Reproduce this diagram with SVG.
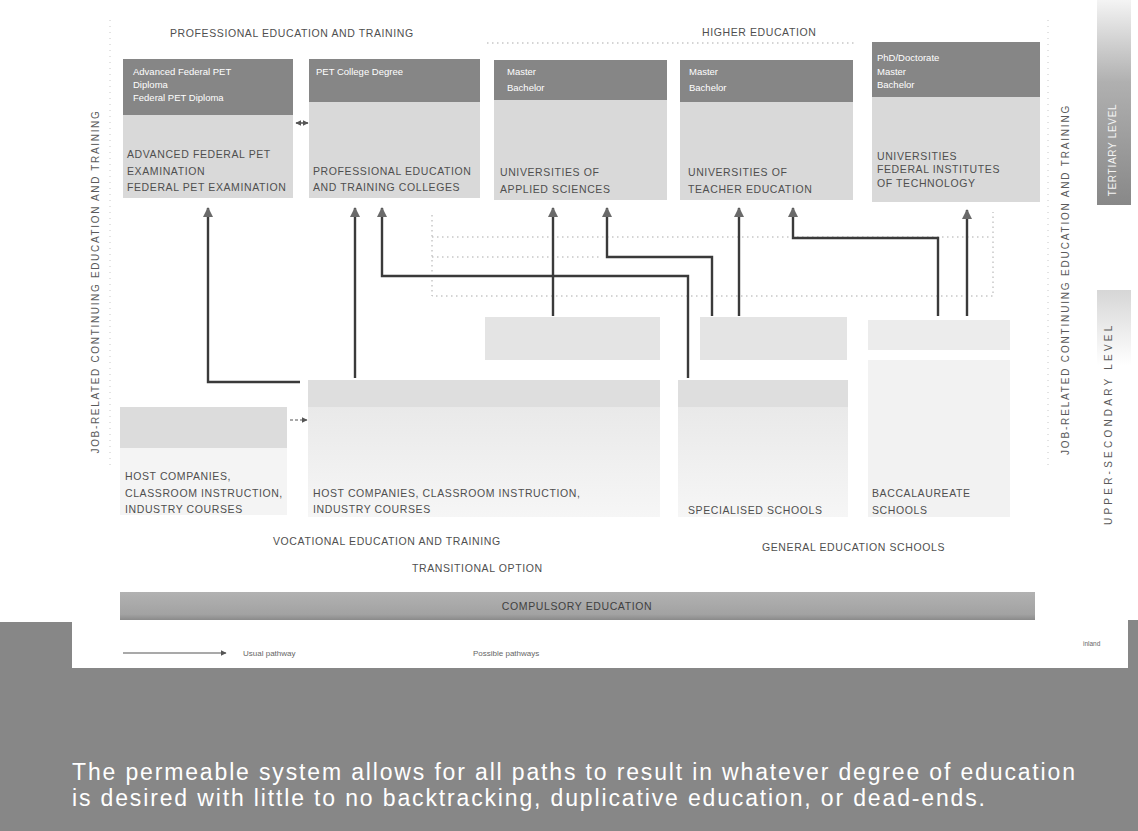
<svg xmlns="http://www.w3.org/2000/svg" width="1138" height="831" viewBox="0 0 1138 831">
<defs>
<style>
.t{font-family:"Liberation Sans",Arial,sans-serif;fill:#4f4f4f;font-size:10.5px;letter-spacing:0.6px}
.s{font-family:"Liberation Sans",Arial,sans-serif;fill:#5a5a5a;font-size:10px;letter-spacing:0.7px}
.h{font-family:"Liberation Sans",Arial,sans-serif;fill:#ffffff;font-size:9.5px}
.lg{font-family:"Liberation Sans",Arial,sans-serif;fill:#666;font-size:8px}
.cap{font-family:"Liberation Sans",Arial,sans-serif;fill:#ffffff;font-size:23px}
.hd{fill:#868686}
.bd{fill:#d9d9d9}
.lt{fill:#e4e4e4}
.vl{fill:#ececec}
.c{fill:none;stroke:#3a3a3a;stroke-width:2.4}
.p{fill:none;stroke:#aaaaaa;stroke-width:1;stroke-dasharray:1.5 3.5}
.pf{fill:none;stroke:#c8c8c8;stroke-width:1;stroke-dasharray:1 5}
</style>
<marker id="ah" viewBox="0 0 10 10" refX="9" refY="5" markerUnits="userSpaceOnUse" markerWidth="10" markerHeight="10" orient="auto">
<path d="M0,0 L10,5 L0,10 z" fill="#6a6a6a"/>
</marker>
<marker id="as" viewBox="0 0 10 10" refX="9" refY="5" markerUnits="userSpaceOnUse" markerWidth="6" markerHeight="6" orient="auto-start-reverse">
<path d="M0,0 L10,5 L0,10 z" fill="#555"/>
</marker>
<linearGradient id="gTer" x1="0" y1="0" x2="0" y2="1">
<stop offset="0" stop-color="#f4f4f4"/>
<stop offset="0.4" stop-color="#b0b0b0"/>
<stop offset="1" stop-color="#888888"/>
</linearGradient>
<linearGradient id="gUp" x1="0" y1="0" x2="0" y2="1">
<stop offset="0" stop-color="#d6d6d6"/>
<stop offset="1" stop-color="#ffffff"/>
</linearGradient>
<linearGradient id="gFade" x1="0" y1="0" x2="0" y2="1">
<stop offset="0" stop-color="#e6e6e6"/>
<stop offset="1" stop-color="#f6f6f6"/>
</linearGradient>
<linearGradient id="gComp" x1="0" y1="0" x2="0" y2="1">
<stop offset="0" stop-color="#b2b2b2"/>
<stop offset="0.8" stop-color="#a2a2a2"/>
<stop offset="1" stop-color="#8a8a8a"/>
</linearGradient>
</defs>

<rect x="0" y="0" width="1138" height="831" fill="#ffffff"/>
<g id="frame">
<path d="M0,622 H72 V668 H1128 V620 H1138 V831 H0 Z" fill="#878787"/>
</g>

<g id="section-titles">
<text class="t" x="170" y="37">PROFESSIONAL EDUCATION AND TRAINING</text>
<text class="t" x="702" y="36">HIGHER EDUCATION</text>
<line class="p" x1="487" y1="43" x2="857" y2="43"/>
<line class="pf" x1="110" y1="20" x2="110" y2="470"/>
<line class="pf" x1="1048" y1="20" x2="1048" y2="470"/>
</g>

<g id="side-left">
<text class="s" transform="translate(99,282) rotate(-90)" text-anchor="middle" textLength="343" lengthAdjust="spacing">JOB-RELATED CONTINUING EDUCATION AND TRAINING</text>
</g>
<g id="side-right">
<text class="s" transform="translate(1069,280) rotate(-90)" text-anchor="middle" textLength="350" lengthAdjust="spacing">JOB-RELATED CONTINUING EDUCATION AND TRAINING</text>
</g>
<g id="tertiary-level">
<rect x="1097" y="0" width="34" height="205" fill="url(#gTer)"/>
<text class="s" style="fill:#f4f4f4" transform="translate(1116,150) rotate(-90)" text-anchor="middle">TERTIARY LEVEL</text>
</g>
<g id="upper-secondary-level">
<rect x="1097" y="290" width="34" height="75" fill="url(#gUp)"/>
<text class="s" transform="translate(1112,425) rotate(-90)" text-anchor="middle" textLength="200" lengthAdjust="spacing">UPPER-SECONDARY LEVEL</text>
</g>

<g id="pet-exam">
<rect class="bd" x="123" y="59" width="170" height="139"/>
<rect class="hd" x="123" y="59" width="170" height="56"/>
<text class="h" x="133" y="75">Advanced Federal PET</text>
<text class="h" x="133" y="88">Diploma</text>
<text class="h" x="133" y="101">Federal PET Diploma</text>
<text class="t" x="127" y="158">ADVANCED FEDERAL PET</text>
<text class="t" x="127" y="175">EXAMINATION</text>
<text class="t" x="127" y="191">FEDERAL PET EXAMINATION</text>
</g>
<g id="pet-colleges">
<rect class="bd" x="309" y="59" width="171" height="139"/>
<rect class="hd" x="309" y="59" width="171" height="43"/>
<text class="h" x="316" y="75">PET College Degree</text>
<text class="t" x="313" y="175">PROFESSIONAL EDUCATION</text>
<text class="t" x="313" y="191">AND TRAINING COLLEGES</text>
</g>
<g id="uas">
<rect class="bd" x="494" y="60" width="173" height="140"/>
<rect class="hd" x="494" y="60" width="173" height="40"/>
<text class="h" x="507" y="75">Master</text>
<text class="h" x="507" y="91">Bachelor</text>
<text class="t" x="500" y="176">UNIVERSITIES OF</text>
<text class="t" x="500" y="193">APPLIED SCIENCES</text>
</g>
<g id="ute">
<rect class="bd" x="680" y="60" width="173" height="140"/>
<rect class="hd" x="680" y="60" width="173" height="42"/>
<text class="h" x="689" y="75">Master</text>
<text class="h" x="689" y="91">Bachelor</text>
<text class="t" x="688" y="176">UNIVERSITIES OF</text>
<text class="t" x="688" y="193">TEACHER EDUCATION</text>
</g>
<g id="universities">
<rect class="bd" x="872" y="42" width="168" height="160"/>
<rect class="hd" x="872" y="42" width="168" height="55"/>
<text class="h" x="877" y="61">PhD/Doctorate</text>
<text class="h" x="877" y="75">Master</text>
<text class="h" x="877" y="88">Bachelor</text>
<text class="t" x="877" y="160">UNIVERSITIES</text>
<text class="t" x="877" y="173">FEDERAL INSTITUTES</text>
<text class="t" x="877" y="187">OF TECHNOLOGY</text>
</g>

<g id="vocational-baccalaureate">
<rect class="lt" x="485" y="317" width="175" height="43"/>
</g>
<g id="specialised-baccalaureate">
<rect class="lt" x="700" y="317" width="147" height="43"/>
</g>
<g id="baccalaureate">
<rect class="vl" x="868" y="320" width="142" height="30"/>
</g>

<g id="transitional">
<rect x="120" y="448" width="167" height="67" fill="#f4f4f4"/>
<rect x="120" y="407" width="167" height="41" fill="#dcdcdc"/>
<text class="t" x="125" y="480">HOST COMPANIES,</text>
<text class="t" x="125" y="497">CLASSROOM INSTRUCTION,</text>
<text class="t" x="125" y="513">INDUSTRY COURSES</text>
</g>
<g id="vet">
<rect x="308" y="380" width="352" height="137" fill="url(#gFade)"/>
<rect x="308" y="380" width="352" height="27" fill="#dedede"/>
<text class="t" x="313" y="497">HOST COMPANIES, CLASSROOM INSTRUCTION,</text>
<text class="t" x="313" y="513">INDUSTRY COURSES</text>
</g>
<g id="specialised-schools">
<rect x="678" y="380" width="170" height="137" fill="url(#gFade)"/>
<rect x="678" y="380" width="170" height="27" fill="#dedede"/>
<text class="t" x="688" y="514">SPECIALISED SCHOOLS</text>
</g>
<g id="baccalaureate-schools">
<rect x="868" y="360" width="142" height="157" fill="#f2f2f2"/>
<text class="t" x="872" y="497">BACCALAUREATE</text>
<text class="t" x="872" y="514">SCHOOLS</text>
</g>

<g id="group-labels">
<text class="t" x="273" y="545">VOCATIONAL EDUCATION AND TRAINING</text>
<text class="t" x="762" y="551">GENERAL EDUCATION SCHOOLS</text>
<text class="t" x="412" y="572">TRANSITIONAL OPTION</text>
</g>

<g id="compulsory">
<rect x="120" y="592" width="915" height="28" fill="url(#gComp)"/>
<text class="t" style="fill:#3f3f3f" x="577" y="610" text-anchor="middle">COMPULSORY EDUCATION</text>
</g>

<g id="connectors">
<path class="p" d="M432,215 V296 H993 V212"/>
<path class="p" d="M432,237 H990"/>
<path class="p" d="M432,257 H600"/>
<path class="c" d="M300,382 H208 V208" marker-end="url(#ah)"/>
<path class="c" d="M355,378 V208" marker-end="url(#ah)"/>
<path class="c" d="M688,378 V276 H382 V208" marker-end="url(#ah)"/>
<path class="c" d="M553,316 V208" marker-end="url(#ah)"/>
<path class="c" d="M712,316 V257 H607 V208" marker-end="url(#ah)"/>
<path class="c" d="M739,316 V208" marker-end="url(#ah)"/>
<path class="c" d="M938,316 V238 H793 V208" marker-end="url(#ah)"/>
<path class="c" d="M967,316 V210" marker-end="url(#ah)"/>
<path fill="none" stroke="#555" stroke-width="1.5" d="M296,123 H308" marker-start="url(#as)" marker-end="url(#as)"/>
<path fill="none" stroke="#555" stroke-width="1.2" stroke-dasharray="3 2" d="M290,420 H307" marker-end="url(#as)"/>
</g>

<g id="legend">
<path fill="none" stroke="#555" stroke-width="1.2" d="M123,653 H226" marker-end="url(#as)"/>
<text class="lg" x="243" y="656">Usual pathway</text>
<text class="lg" x="473" y="656">Possible pathways</text>
<text class="lg" x="1083" y="646" style="font-size:6.5px">inland</text>
</g>

<g id="caption">
<text class="cap" x="72" y="780" textLength="1003" lengthAdjust="spacing">The permeable system allows for all paths to result in whatever degree of education</text>
<text class="cap" x="72" y="806" textLength="913" lengthAdjust="spacing">is desired with little to no backtracking, duplicative education, or dead-ends.</text>
</g>
</svg>
